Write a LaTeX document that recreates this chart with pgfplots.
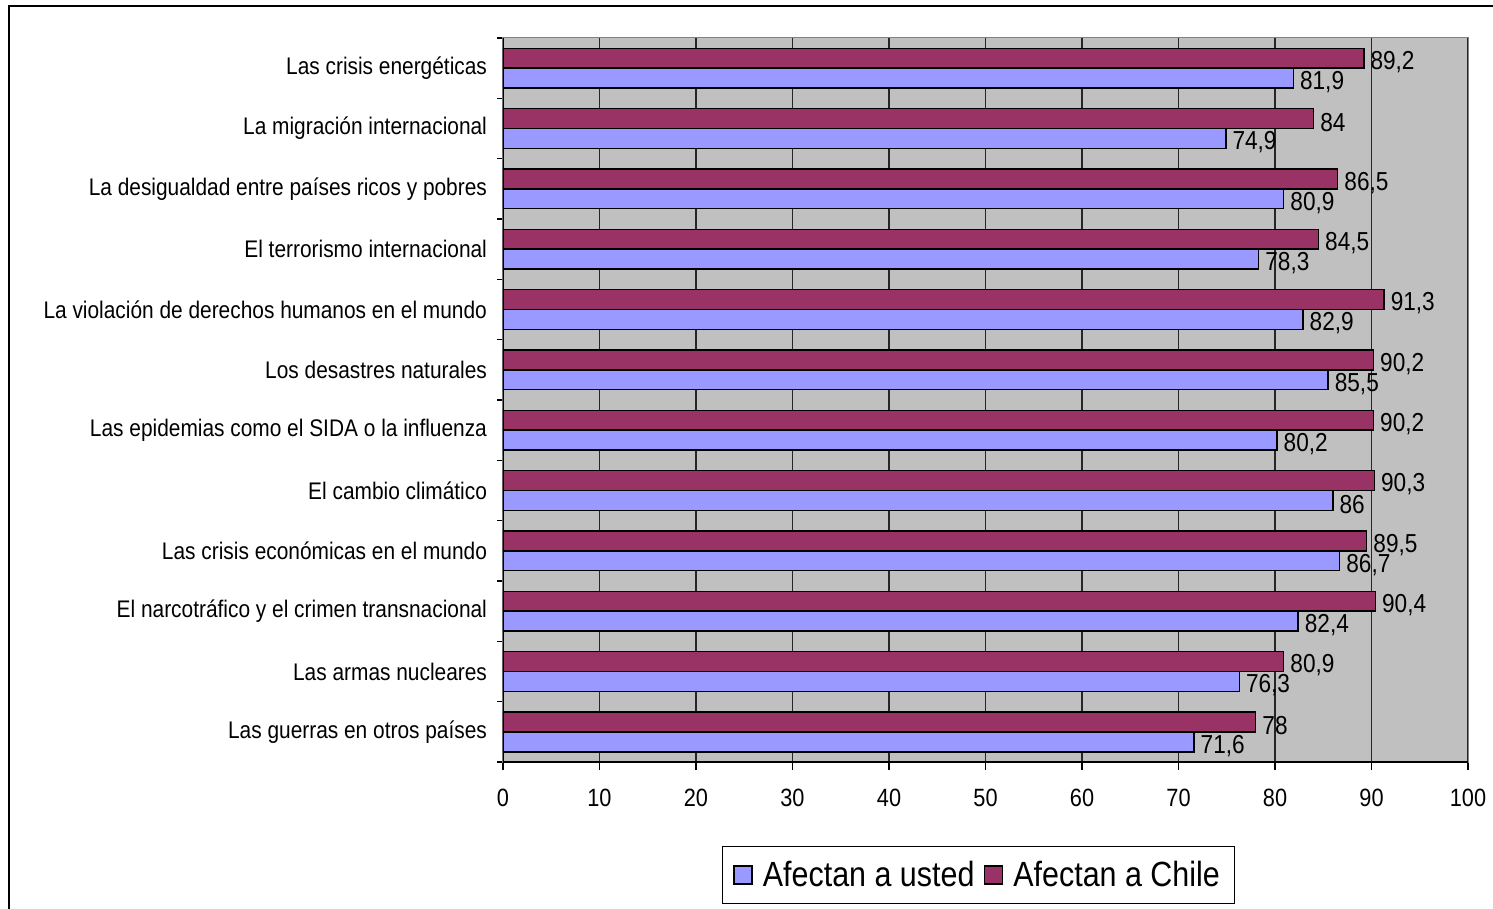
\documentclass[border=0pt]{standalone}
\usepackage{pgfplots}
\pgfplotsset{compat=1.18}
\usepackage{fontspec}
\setmainfont{Liberation Sans}
\newfontfamily\condfont[FakeStretch=0.87]{Liberation Sans}
\definecolor{usted}{HTML}{9999FF}
\definecolor{chile}{HTML}{993366}
\definecolor{plotbg}{HTML}{C0C0C0}
\definecolor{frame}{HTML}{808080}
\newcommand\catfont{\condfont\fontsize{12}{14}\selectfont}
\newcommand\datafont{\condfont\fontsize{13}{15}\selectfont}
\newcommand\tickfont{\condfont\fontsize{12.5}{15}\selectfont}
\newcommand\legfont{\condfont\fontsize{17.5}{20}\selectfont}
\begin{document}
\begin{tikzpicture}
% outer frame (1 px = 0.5pt, y downwards)
\draw[black, line width=0.75pt] (4.5pt,-454.5pt) -- (4.5pt,-3pt) -- (746.5pt,-3pt);
\begin{axis}[
  at={(251.5pt,-381pt)}, anchor=south west,
  scale only axis, width=482.5pt, height=362pt,
  xmin=0, xmax=100, ymin=0.5, ymax=12.5,
  xtick={0,10,...,100}, xtick pos=bottom, ytick pos=left,
  ytick={1,...,12},
  yticklabels={Las guerras en otros países, Las armas nucleares, El narcotráfico y el crimen transnacional, Las crisis económicas en el mundo, El cambio climático, Las epidemias como el SIDA o la influenza, Los desastres naturales, La violación de derechos humanos en el mundo, El terrorismo internacional, La desigualdad entre países ricos y pobres, La migración internacional, Las crisis energéticas},
  minor ytick={0.5,1.5,...,12.5},
  tick align=outside, major tick length=4pt, minor tick length=3pt,
  every major y tick/.style={draw=none},
  every minor y tick/.style={black, line width=0.6pt},
  every major x tick/.style={black, line width=0.6pt},
  yticklabel style={font=\catfont, xshift=-0.5pt},
  xticklabel style={font=\tickfont, yshift=-6pt},
  /pgf/number format/assume math mode=true,
  xmajorgrids, major grid style={black!85, line width=0.55pt},
  axis background/.style={fill=plotbg},
  axis line style={frame, line width=0.5pt},
  xbar, bar width=0.33,
  point meta=x,
  nodes near coords={\pgfmathprintnumber[use comma,fixed,precision=1,assume math mode=true]{\pgfplotspointmeta}},
  every node near coord/.append style={font=\datafont, black, anchor=west, inner xsep=3pt, yshift=-2pt},
  legend style={at={(0.4927,-0.1561)}, anchor=center, draw=black, line width=0.5pt, fill=white,
    font=\legfont, legend columns=2, inner xsep=5.5pt, inner ysep=5pt,
    /tikz/every even column/.append style={column sep=2.5pt},
    /tikz/every odd column/.append style={column sep=3pt}},
]
\addplot[fill=usted, draw=black, line width=0.75pt, bar shift=-0.165,
  legend image code/.code={\draw[fill=usted, draw=black, line width=0.75pt] (0pt,-4.6pt) rectangle (9.2pt,4.6pt);}]
  coordinates {(71.6,1) (76.3,2) (82.4,3) (86.7,4) (86,5) (80.2,6) (85.5,7) (82.9,8) (78.3,9) (80.9,10) (74.9,11) (81.9,12)};
\addplot[fill=chile, draw=black, line width=0.75pt, bar shift=0.165,
  legend image code/.code={\draw[fill=chile, draw=black, line width=0.75pt] (0pt,-4.6pt) rectangle (9.2pt,4.6pt);}]
  coordinates {(78,1) (80.9,2) (90.4,3) (89.5,4) (90.3,5) (90.2,6) (90.2,7) (91.3,8) (84.5,9) (86.5,10) (84,11) (89.2,12)};
\legend{Afectan a usted, Afectan a Chile}
\draw[black, line width=0.8pt] (rel axis cs:0,1) -- (rel axis cs:0,0) -- (rel axis cs:1,0);
\end{axis}
\pgfresetboundingbox
\useasboundingbox (0pt,0pt) rectangle (746.5pt,-454.5pt);
\end{tikzpicture}
\end{document}
